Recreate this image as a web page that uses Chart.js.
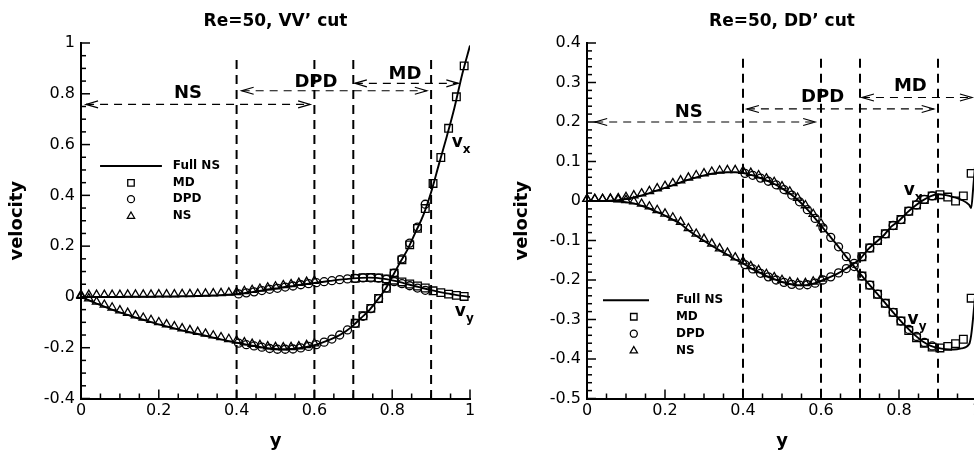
<!DOCTYPE html>
<html>
<head>
<meta charset="utf-8">
<script src="https://cdn.jsdelivr.net/npm/chart.js@4"></script>
<style>
  html, body { margin: 0; padding: 0; overflow: hidden; background: #fff; width: 974px; height: 456px; }
  #vvCut { position: absolute; left: 0; top: 0; }
  #ddCut { position: absolute; left: 487px; top: 0; }
</style>
</head>
<body>
<canvas id="vvCut" width="487" height="456"></canvas>
<canvas id="ddCut" width="500" height="456"></canvas>
<script>
// ---------- data ----------
// positions along the cut (the "y" axis of the plot)
const gridPos = [0, 0.02, 0.04, 0.06, 0.08, 0.1, 0.12, 0.14, 0.16, 0.18, 0.2, 0.22, 0.24, 0.26, 0.28, 0.3,
  0.32, 0.34, 0.36, 0.38, 0.4, 0.42, 0.44, 0.46, 0.48, 0.5, 0.52, 0.54, 0.56, 0.58, 0.6, 0.62, 0.64, 0.66,
  0.68, 0.7, 0.72, 0.74, 0.76, 0.78, 0.8, 0.82, 0.84, 0.86, 0.88, 0.9, 0.92, 0.94, 0.96, 0.98, 1];
const ddLinePos = [0, 0.02, 0.04, 0.06, 0.08, 0.1, 0.12, 0.14, 0.16, 0.18, 0.2, 0.22, 0.24, 0.26, 0.28, 0.3,
  0.32, 0.34, 0.36, 0.38, 0.4, 0.42, 0.44, 0.46, 0.48, 0.5, 0.52, 0.54, 0.56, 0.58, 0.6, 0.62, 0.64, 0.66,
  0.68, 0.7, 0.72, 0.74, 0.76, 0.78, 0.8, 0.82, 0.84, 0.86, 0.88, 0.9, 0.92, 0.94, 0.96, 0.98, 0.985, 0.99, 1];
const nsPos = [0, 0.02, 0.04, 0.06, 0.08, 0.1, 0.12, 0.14, 0.16, 0.18, 0.2, 0.22, 0.24, 0.26, 0.28, 0.3,
  0.32, 0.34, 0.36, 0.38, 0.4, 0.42, 0.44, 0.46, 0.48, 0.5, 0.52, 0.54, 0.56, 0.58, 0.6];
const dpdPos = [0.405, 0.425, 0.445, 0.465, 0.485, 0.505, 0.525, 0.545, 0.565, 0.585, 0.605, 0.625, 0.645,
  0.665, 0.685, 0.705, 0.725, 0.745, 0.765, 0.785, 0.805, 0.825, 0.845, 0.865, 0.885];
const mdPos = [0.705, 0.725, 0.745, 0.765, 0.785, 0.805, 0.825, 0.845, 0.865, 0.885, 0.905, 0.925, 0.945, 0.965, 0.985];

// VV' cut
const vvFullVx = [0, -0.013, -0.026, -0.038, -0.05, -0.061, -0.071, -0.081, -0.09, -0.099, -0.108, -0.116,
  -0.124, -0.132, -0.139, -0.146, -0.153, -0.16, -0.167, -0.174, -0.18, -0.186, -0.192, -0.197, -0.202,
  -0.205, -0.206, -0.205, -0.202, -0.197, -0.19, -0.18, -0.168, -0.154, -0.136, -0.112, -0.083, -0.054,
  -0.016, 0.025, 0.079, 0.135, 0.188, 0.255, 0.322, 0.412, 0.522, 0.63, 0.745, 0.877, 0.99];
const vvFullVy = [0, 0, 0, 0, 0, 0, 0.001, 0.001, 0.001, 0.001, 0.002, 0.002, 0.002, 0.003, 0.003, 0.004,
  0.005, 0.006, 0.007, 0.009, 0.011, 0.015, 0.019, 0.024, 0.029, 0.033, 0.038, 0.042, 0.047, 0.051, 0.055,
  0.059, 0.063, 0.067, 0.07, 0.073, 0.075, 0.076, 0.075, 0.071, 0.065, 0.058, 0.05, 0.042, 0.034, 0.027,
  0.02, 0.014, 0.009, 0.004, 0];
const vvNsVx = [0.004, -0.006, -0.019, -0.031, -0.042, -0.053, -0.063, -0.073, -0.082, -0.091, -0.1, -0.108,
  -0.116, -0.124, -0.131, -0.138, -0.145, -0.152, -0.159, -0.166, -0.172, -0.179, -0.185, -0.19, -0.195,
  -0.198, -0.199, -0.198, -0.195, -0.19, -0.183];
const vvNsVy = [0.008, 0.008, 0.008, 0.008, 0.008, 0.008, 0.009, 0.009, 0.009, 0.009, 0.01, 0.01, 0.01, 0.011,
  0.011, 0.012, 0.013, 0.014, 0.015, 0.017, 0.019, 0.023, 0.027, 0.032, 0.037, 0.041, 0.046, 0.05, 0.055,
  0.059, 0.063];
const vvDpdVx = [-0.182, -0.188, -0.193, -0.198, -0.203, -0.206, -0.206, -0.205, -0.201, -0.195, -0.188,
  -0.178, -0.166, -0.15, -0.13, -0.104, -0.076, -0.046, -0.007, 0.036, 0.094, 0.15, 0.212, 0.275, 0.365];
const vvDpdVy = [0.012, 0.016, 0.02, 0.025, 0.03, 0.034, 0.039, 0.043, 0.048, 0.052, 0.056, 0.06, 0.064,
  0.068, 0.071, 0.073, 0.075, 0.075, 0.074, 0.069, 0.06, 0.052, 0.044, 0.035, 0.026];
const vvMdVx = [-0.104, -0.074, -0.045, -0.006, 0.034, 0.093, 0.146, 0.205, 0.27, 0.348, 0.447, 0.549, 0.664,
  0.788, 0.91];
const vvMdVy = [0.073, 0.076, 0.077, 0.075, 0.071, 0.066, 0.059, 0.051, 0.043, 0.035, 0.024, 0.017, 0.011,
  0.006, 0.002];

// DD' cut
const ddFullVx = [0, 0, 0, 0, -0.001, -0.003, -0.006, -0.012, -0.019, -0.028, -0.037, -0.047, -0.058, -0.074,
  -0.088, -0.101, -0.113, -0.125, -0.136, -0.148, -0.158, -0.17, -0.18, -0.19, -0.198, -0.205, -0.21, -0.213,
  -0.213, -0.209, -0.202, -0.194, -0.185, -0.174, -0.161, -0.147, -0.123, -0.105, -0.088, -0.065, -0.05,
  -0.03, -0.013, 0.001, 0.012, 0.017, 0.015, 0.01, 0.003, -0.01, -0.018, 0.03, 0.15];
const ddFullVy = [0, 0, 0, 0.001, 0.002, 0.005, 0.009, 0.014, 0.02, 0.027, 0.033, 0.04, 0.047, 0.054, 0.06,
  0.065, 0.069, 0.072, 0.073, 0.073, 0.071, 0.066, 0.06, 0.052, 0.043, 0.032, 0.019, 0.003, -0.016, -0.038,
  -0.062, -0.086, -0.11, -0.135, -0.16, -0.184, -0.207, -0.23, -0.253, -0.276, -0.299, -0.32, -0.339,
  -0.355, -0.366, -0.372, -0.375, -0.376, -0.373, -0.362, -0.34, -0.296, -0.18];
const ddNsVx = [0.005, 0.005, 0.005, 0.005, 0.004, 0.002, -0.001, -0.007, -0.014, -0.023, -0.032, -0.042,
  -0.053, -0.069, -0.083, -0.096, -0.108, -0.12, -0.131, -0.143, -0.153, -0.165, -0.175, -0.185, -0.193,
  -0.2, -0.205, -0.208, -0.208, -0.204, -0.197];
const ddNsVy = [0.005, 0.005, 0.005, 0.006, 0.007, 0.01, 0.014, 0.019, 0.025, 0.032, 0.038, 0.045, 0.052,
  0.059, 0.065, 0.07, 0.074, 0.077, 0.078, 0.078, 0.076, 0.071, 0.065, 0.057, 0.048, 0.037, 0.024, 0.008,
  -0.011, -0.033, -0.057];
const ddDpdVx = [-0.161, -0.172, -0.183, -0.192, -0.2, -0.206, -0.211, -0.213, -0.212, -0.208, -0.2, -0.192,
  -0.182, -0.171, -0.158, -0.141, -0.119, -0.1, -0.083, -0.062, -0.047, -0.026, -0.01, 0.004, 0.013];
const ddDpdVy = [0.07, 0.065, 0.058, 0.05, 0.041, 0.029, 0.015, -0.002, -0.022, -0.044, -0.068, -0.092,
  -0.116, -0.141, -0.166, -0.19, -0.213, -0.236, -0.259, -0.282, -0.304, -0.325, -0.343, -0.358, -0.367];
const ddMdVx = [-0.141, -0.119, -0.1, -0.083, -0.062, -0.047, -0.026, -0.01, 0.004, 0.013, 0.016, 0.01, 0,
  0.013, 0.07];
const ddMdVy = [-0.19, -0.213, -0.236, -0.259, -0.282, -0.304, -0.328, -0.346, -0.36, -0.37, -0.372, -0.368,
  -0.361, -0.35, -0.246];

// tick labels and region boundaries
const posTicks = [0, 0.2, 0.4, 0.6, 0.8, 1];
const vvTicks = [-0.4, -0.2, 0, 0.2, 0.4, 0.6, 0.8, 1];
const ddTicks = [-0.5, -0.4, -0.3, -0.2, -0.1, 0, 0.1, 0.2, 0.3, 0.4];
const regionCuts = [0.4, 0.6, 0.7, 0.9];
const seriesNames = ['Full NS', 'MD', 'DPD', 'NS'];

// ---------- drawing ----------
const F = "'DejaVu Sans', sans-serif";
Chart.defaults.font.family = F;
Chart.defaults.color = '#000';

const pts = (xs, vs) => xs.map((x, i) => ({ x: x, y: vs[i] }));

const markStyle = {
  MD: { pointStyle: 'rect', radius: 5.4 },
  DPD: { pointStyle: 'circle', radius: 4 },
  NS: { pointStyle: 'triangle', radius: 4.8 }
};

function drawMark(ctx, name, r, x, y) {
  ctx.save();
  ctx.setLineDash([]);
  ctx.lineWidth = 1.3;
  ctx.strokeStyle = '#000';
  ctx.fillStyle = 'rgba(0,0,0,0)';
  Chart.helpers.drawPoint(ctx, { pointStyle: markStyle[name].pointStyle, radius: r, borderWidth: 1.3, rotation: 0 }, x, y);
  ctx.restore();
}

const decor = {
  id: 'decor',
  beforeDatasetsDraw(chart, args, o) {
    const { ctx, chartArea: a, scales: { x, y } } = chart;
    const px = v => x.getPixelForValue(v);
    const py = v => y.getPixelForValue(v);
    ctx.save();
    ctx.strokeStyle = '#000';
    ctx.fillStyle = '#000';

    // tick marks pointing into the plot
    ctx.lineWidth = 1.5;
    const nx = Math.round((x.max - x.min) / o.xMinor);
    for (let i = 0; i <= nx; i++) {
      const p = px(x.min + i * o.xMinor);
      const len = i % o.xEvery === 0 ? 9 : 5;
      ctx.beginPath(); ctx.moveTo(p, a.bottom); ctx.lineTo(p, a.bottom - len); ctx.stroke();
    }
    const ny = Math.round((y.max - y.min) / o.yMinor);
    for (let i = 0; i <= ny; i++) {
      const p = py(y.min + i * o.yMinor);
      const len = i % o.yEvery === 0 ? 9 : 5;
      ctx.beginPath(); ctx.moveTo(a.left, p); ctx.lineTo(a.left + len, p); ctx.stroke();
    }

    // region boundaries
    ctx.lineWidth = 2;
    ctx.setLineDash([9, 6]);
    regionCuts.forEach(c => {
      ctx.beginPath(); ctx.moveTo(px(c), py(o.cutTop)); ctx.lineTo(px(c), a.bottom); ctx.stroke();
    });

    // double arrows with region names
    o.arrows.forEach(ar => {
      const x0 = px(ar.from), x1 = px(ar.to), yy = py(ar.at);
      ctx.lineWidth = 1.2;
      ctx.setLineDash([8, 6]);
      ctx.beginPath(); ctx.moveTo(x0, yy); ctx.lineTo(x1, yy); ctx.stroke();
      ctx.setLineDash([]);
      ctx.beginPath();
      ctx.moveTo(x0 + 12, yy - 3.5); ctx.lineTo(x0, yy); ctx.lineTo(x0 + 12, yy + 3.5);
      ctx.moveTo(x1 - 12, yy - 3.5); ctx.lineTo(x1, yy); ctx.lineTo(x1 - 12, yy + 3.5);
      ctx.stroke();
      ctx.font = 'bold 18px ' + F;
      ctx.textAlign = 'center';
      ctx.textBaseline = 'middle';
      ctx.fillText(ar.label, px(ar.lx), py(ar.ly));
    });
    ctx.restore();
  },
  afterDatasetsDraw(chart, args, o) {
    const { ctx, scales: { x, y } } = chart;
    const px = v => x.getPixelForValue(v);
    const py = v => y.getPixelForValue(v);
    ctx.save();
    ctx.fillStyle = '#000';
    ctx.strokeStyle = '#000';

    // legend
    const lg = o.legend;
    ctx.lineWidth = 2;
    ctx.beginPath(); ctx.moveTo(px(lg.x0), py(lg.rows[0])); ctx.lineTo(px(lg.x1), py(lg.rows[0])); ctx.stroke();
    ctx.font = 'bold 12px ' + F;
    ctx.textAlign = 'left';
    ctx.textBaseline = 'middle';
    seriesNames.forEach((name, i) => {
      const yy = py(lg.rows[i]);
      if (i > 0) drawMark(ctx, name, name === 'MD' ? 4.6 : (name === 'NS' ? 4.2 : 3.5), px(lg.mx), yy);
      ctx.fillText(name, px(lg.tx), yy);
    });

    // curve names v_x, v_y
    ctx.textBaseline = 'alphabetic';
    o.curveLabels.forEach(c => {
      const xx = px(c.x), yy = py(c.y);
      ctx.font = 'bold 17px ' + F;
      ctx.fillText('v', xx, yy);
      const w = ctx.measureText('v').width;
      ctx.font = 'bold 12px ' + F;
      ctx.fillText(c.sub, xx + w, yy + 6);
    });
    ctx.restore();
  }
};

function datasetsFor(p) {
  const line = data => ({
    label: seriesNames[0], data: data, showLine: true, pointRadius: 0, borderColor: '#000',
    borderWidth: 1.9, cubicInterpolationMode: 'monotone', fill: false
  });
  const marks = (name, data) => ({
    label: name, data: data, showLine: false, pointStyle: markStyle[name].pointStyle,
    pointRadius: markStyle[name].radius, pointBorderWidth: 1.3, pointBorderColor: '#000',
    pointBackgroundColor: 'rgba(0,0,0,0)', clip: false
  });
  return [
    marks('MD', pts(mdPos, p.mdVx)), marks('MD', pts(mdPos, p.mdVy)),
    marks('DPD', pts(dpdPos, p.dpdVx)), marks('DPD', pts(dpdPos, p.dpdVy)),
    marks('NS', pts(nsPos, p.nsVx)), marks('NS', pts(nsPos, p.nsVy)),
    line(pts(p.linePos, p.fullVx)), line(pts(p.linePos, p.fullVy))
  ];
}

function makePanel(id, p) {
  return new Chart(document.getElementById(id), {
    type: 'scatter',
    data: { datasets: datasetsFor(p) },
    plugins: [decor],
    options: {
      responsive: false,
      animation: false,
      events: [],
      layout: { padding: { left: p.padLeft, right: p.padRight, top: 0, bottom: 0 } },
      plugins: {
        legend: { display: false },
        tooltip: { enabled: false },
        title: {
          display: true, text: p.title, fullSize: false, color: '#000',
          font: { family: F, size: 17, weight: 'bold' }, padding: { top: 11, bottom: 11.6 }
        },
        decor: p.decor
      },
      scales: {
        x: {
          type: 'linear', min: 0, max: 1,
          afterBuildTicks: s => { s.ticks = posTicks.map(v => ({ value: v })); },
          afterFit: s => { s.height = 57.5; },
          grid: { display: false, drawTicks: false },
          border: { display: true, color: '#000', width: 2 },
          ticks: { color: '#000', padding: 3, maxRotation: 0, font: { family: F, size: 16 }, callback: v => String(v) },
          title: { display: true, text: 'y', color: '#000', font: { family: F, size: 18, weight: 'bold' }, padding: { top: 0, bottom: 4 } }
        },
        y: {
          type: 'linear', min: p.yMin, max: p.yMax,
          afterBuildTicks: s => { s.ticks = p.yTicks.map(v => ({ value: v })); },
          afterFit: s => { s.width = p.yWidth; },
          grid: { display: false, drawTicks: false },
          border: { display: true, color: '#000', width: 2 },
          ticks: { color: '#000', padding: 6, font: { family: F, size: 16 }, callback: v => String(v) },
          title: { display: true, text: 'velocity', color: '#000', font: { family: F, size: 18, weight: 'bold' }, padding: { top: 7, bottom: 0 } }
        }
      }
    }
  });
}

makePanel('vvCut', {
  title: 'Re=50, VV\u2019 cut', yMin: -0.4, yMax: 1, yTicks: vvTicks, yWidth: 81, padLeft: 0, padRight: 17,
  linePos: gridPos, fullVx: vvFullVx, fullVy: vvFullVy,
  nsVx: vvNsVx, nsVy: vvNsVy, dpdVx: vvDpdVx, dpdVy: vvDpdVy, mdVx: vvMdVx, mdVy: vvMdVy,
  decor: {
    xMinor: 0.05, xEvery: 4, yMinor: 0.05, yEvery: 4, cutTop: 0.933,
    arrows: [
      { from: 0.013, to: 0.589, at: 0.758, label: 'NS', lx: 0.275, ly: 0.8 },
      { from: 0.413, to: 0.889, at: 0.812, label: 'DPD', lx: 0.604, ly: 0.847 },
      { from: 0.704, to: 0.97, at: 0.841, label: 'MD', lx: 0.833, ly: 0.878 }
    ],
    legend: { x0: 0.049, x1: 0.208, mx: 0.1285, tx: 0.236, rows: [0.516, 0.449, 0.385, 0.318] },
    curveLabels: [{ x: 0.953, y: 0.591, sub: 'x' }, { x: 0.961, y: -0.074, sub: 'y' }]
  }
});

makePanel('ddCut', {
  title: 'Re=50, DD\u2019 cut', yMin: -0.5, yMax: 0.4, yTicks: ddTicks, yWidth: 82, padLeft: 18, padRight: 10,
  linePos: ddLinePos, fullVx: ddFullVx, fullVy: ddFullVy,
  nsVx: ddNsVx, nsVy: ddNsVy, dpdVx: ddDpdVx, dpdVy: ddDpdVy, mdVx: ddMdVx, mdVy: ddMdVy,
  decor: {
    xMinor: 0.05, xEvery: 4, yMinor: 0.02, yEvery: 5, cutTop: 0.36,
    arrows: [
      { from: 0.021, to: 0.585, at: 0.2, label: 'NS', lx: 0.261, ly: 0.225 },
      { from: 0.41, to: 0.889, at: 0.233, label: 'DPD', lx: 0.604, ly: 0.262 },
      { from: 0.705, to: 0.987, at: 0.262, label: 'MD', lx: 0.829, ly: 0.29 }
    ],
    legend: { x0: 0.041, x1: 0.159, mx: 0.12, tx: 0.228, rows: [-0.2515, -0.293, -0.336, -0.379] },
    curveLabels: [{ x: 0.812, y: 0.016, sub: 'x' }, { x: 0.822, y: -0.312, sub: 'y' }]
  }
});
</script>
</body>
</html>
